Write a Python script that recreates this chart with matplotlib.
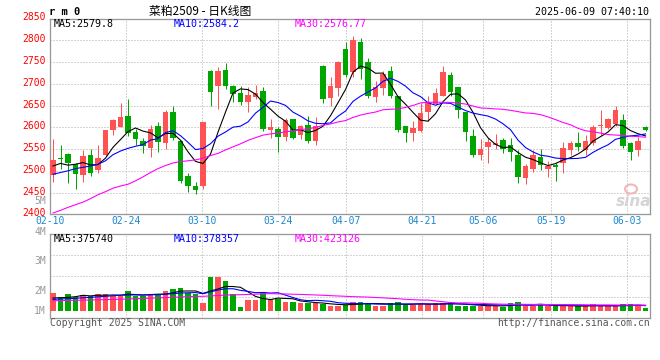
import numpy as np
import pandas as pd
import matplotlib
matplotlib.use('Agg')
import matplotlib.pyplot as plt
import matplotlib.transforms as mtransforms
from matplotlib.patches import Ellipse

# 菜粕2509 daily candles, 2025-02-10 .. 2025-06-06 (80 trading days)
opens = [2490, 2530, 2538, 2515, 2490, 2536, 2502, 2536, 2594, 2601,
         2625, 2589, 2568, 2553, 2602, 2563, 2636, 2568, 2488, 2465,
         2464, 2730, 2696, 2732, 2695, 2679, 2659, 2669, 2684, 2593,
         2595, 2578, 2618, 2583, 2606, 2568, 2740, 2667, 2690, 2781,
         2728, 2796, 2751, 2669, 2690, 2730, 2671, 2602, 2587, 2591,
         2636, 2654, 2673, 2720, 2692, 2635, 2580, 2537, 2555, 2560,
         2570, 2559, 2536, 2484, 2504, 2532, 2504, 2513, 2517, 2547,
         2564, 2547, 2563, 2603, 2598, 2608, 2616, 2563, 2547, 2601]
closes = [2524, 2526, 2518, 2493, 2534, 2496, 2530, 2593, 2617, 2623,
          2587, 2572, 2557, 2597, 2566, 2636, 2575, 2477, 2464, 2456,
          2612, 2682, 2730, 2694, 2677, 2658, 2674, 2678, 2597, 2601,
          2578, 2616, 2575, 2602, 2568, 2602, 2665, 2696, 2751, 2720,
          2801, 2735, 2673, 2692, 2722, 2671, 2593, 2587, 2598, 2633,
          2659, 2679, 2726, 2682, 2639, 2588, 2536, 2550, 2566, 2564,
          2550, 2544, 2486, 2512, 2537, 2513, 2512, 2509, 2553, 2564,
          2555, 2568, 2601, 2604, 2618, 2639, 2557, 2544, 2568, 2593]
highs = [2572, 2560, 2541, 2518, 2547, 2551, 2559, 2594, 2620, 2656,
         2666, 2597, 2576, 2606, 2611, 2639, 2650, 2570, 2496, 2475,
         2613, 2731, 2738, 2747, 2697, 2695, 2692, 2697, 2692, 2618,
         2600, 2621, 2619, 2605, 2625, 2623, 2743, 2716, 2753, 2796,
         2810, 2806, 2760, 2707, 2730, 2741, 2672, 2604, 2614, 2656,
         2671, 2690, 2740, 2728, 2693, 2636, 2595, 2572, 2576, 2584,
         2575, 2575, 2547, 2515, 2547, 2550, 2523, 2517, 2566, 2568,
         2589, 2582, 2606, 2640, 2621, 2650, 2631, 2566, 2578, 2602]
lows = [2474, 2505, 2473, 2458, 2475, 2488, 2496, 2535, 2582, 2600,
        2580, 2559, 2540, 2532, 2544, 2551, 2570, 2471, 2452, 2446,
        2458, 2649, 2641, 2688, 2657, 2652, 2636, 2665, 2591, 2576,
        2544, 2568, 2572, 2572, 2565, 2559, 2655, 2649, 2673, 2715,
        2716, 2712, 2667, 2658, 2674, 2667, 2588, 2566, 2568, 2588,
        2614, 2652, 2671, 2671, 2621, 2568, 2532, 2524, 2518, 2551,
        2540, 2523, 2471, 2469, 2498, 2502, 2486, 2477, 2496, 2536,
        2545, 2537, 2559, 2582, 2596, 2604, 2553, 2525, 2534, 2592]
volumes = [1350000, 1000000, 1250000, 1000000, 1175000, 1125000, 1250000, 1250000, 1100000, 1100000,
           1500000, 1100000, 1100000, 1250000, 1250000, 1500000, 1625000, 1725000, 1300000, 1250000,
           600000, 2500000, 2500000, 2225000, 1250000, 300000, 800000, 800000, 1425000, 850000,
           850000, 675000, 675000, 600000, 550000, 550000, 500000, 375000, 375000, 425000,
           650000, 650000, 575000, 375000, 375000, 550000, 650000, 425000, 425000, 500000,
           500000, 600000, 550000, 550000, 375000, 375000, 375000, 375000, 375000, 375000,
           300000, 550000, 650000, 375000, 375000, 475000, 350000, 350000, 350000, 350000,
           350000, 350000, 475000, 350000, 350000, 350000, 475000, 475000, 425000, 225000]

# moving-average values before the window fills
ma5_head = [2511, 2517, 2513, 2515]
ma10_head = [2492, 2496, 2500, 2505, 2508, 2511, 2515, 2523, 2537]
ma30_head = [2403, 2409, 2416, 2422, 2428, 2436, 2445, 2452, 2460, 2465,
             2469, 2477, 2486, 2496, 2505, 2512, 2518, 2521, 2523, 2525,
             2529, 2535, 2540, 2548, 2555, 2562, 2570, 2576, 2582]
vma5_head = [950000, 970000, 1000000, 1050000]
vma10_head = [850000, 880000, 900000, 930000, 970000, 1000000, 1040000, 1080000, 1120000]
vma30_head = [750000, 760000, 770000, 780000, 790000, 800000, 820000, 830000, 850000, 860000,
              880000, 900000, 920000, 940000, 960000, 980000, 1000000, 1030000, 1050000, 1070000,
              1080000, 1110000, 1140000, 1170000, 1190000, 1200000, 1220000, 1240000, 1260000]

date_labels = ['02-10', '02-24', '03-10', '03-24', '04-07', '04-21', '05-06', '05-19', '06-03']
date_idx = [0, 10, 20, 30, 39, 49, 57, 66, 76]
price_ticks = list(range(2400, 2851, 50))
vol_labels = ['5M', '4M', '3M', '2M', '1M']
vol_label_y = [201, 232, 261, 291, 311]   # pixel rows of the labels

price_legend = ['MA5:2579.8', 'MA10:2584.2', 'MA30:2576.77']
vol_legend = ['MA5:375740', 'MA10:378357', 'MA30:423126']

RED = '#ff5252'
GREEN = '#00a600'
GRID = '#aaaaaa'
FRAME = '#999999'
MA_COLORS = ['black', '#0000ff', '#ff00ff']
MONO = ['DejaVu Sans Mono', 'Noto Sans CJK SC']
PX = 0.72  # one pixel in points

W, H = 660, 360
def fx(x):
    return x / W
def fy(y):
    return 1 - y / H
def box(l, t, r, b):
    return [l / W, 1 - b / H, (r - l) / W, (b - t) / H]

def with_head(values, n, head):
    rolled = pd.Series(values, dtype=float).rolling(n).mean().values
    return np.concatenate([head, rolled[n - 1:]])

o = np.array(opens, float)
c = np.array(closes, float)
hi = np.array(highs, float)
lo = np.array(lows, float)
v = np.array(volumes, float)
x = np.arange(len(c))
cols = np.where(c >= o, RED, GREEN)

ma_price = [with_head(c, 5, ma5_head), with_head(c, 10, ma10_head), with_head(c, 30, ma30_head)]
ma_vol = [with_head(v, 5, vma5_head), with_head(v, 10, vma10_head), with_head(v, 30, vma30_head)]

plt.rcParams['font.family'] = MONO
fig = plt.figure(figsize=(6.6, 3.6), dpi=100)
fig.patch.set_facecolor('white')

xlim = (-0.4, 79.53)
grid_x = [i - 0.4 + 0.013 * i for i in date_idx]

# ---- price panel
ax = fig.add_axes(box(50, 18.5, 649.5, 214.3))
ax.set_xlim(*xlim)
ax.set_ylim(2400, 2850)
ax.vlines(x, lo, hi, colors=cols, lw=PX, zorder=2)
ax.bar(x, np.maximum(np.abs(c - o), 1.2), bottom=np.minimum(o, c), width=0.75,
       color=cols, lw=0, zorder=3)
for line, col in zip(ma_price, MA_COLORS):
    ax.plot(x, line, color=col, lw=PX * 1.1, zorder=4)

ax.set_yticks(price_ticks)
ax.set_yticklabels([str(t) for t in price_ticks])
ax.set_xticks(grid_x)
ax.set_xticklabels(date_labels)
ax.tick_params(axis='y', length=0, pad=3, labelsize=7, labelcolor='#ff0000')
ax.tick_params(axis='x', length=0, pad=1.5, labelsize=7, labelcolor='#1a86d0')
lift = mtransforms.ScaledTranslation(0, 2 / 100, fig.dpi_scale_trans)
for lab in ax.get_yticklabels():
    lab.set_transform(lab.get_transform() + lift)
ax.grid(True, color=GRID, linestyle=(0, (1, 2)), lw=PX)
ax.set_axisbelow(True)
for s in ax.spines.values():
    s.set_color(FRAME)
    s.set_linewidth(PX * 1.3)

# ---- volume panel
vax = fig.add_axes(box(50, 234.3, 649.5, 318.3))
vax.set_xlim(*xlim)
vlo, vhi = -570000, 5730000
vax.set_ylim(vlo, vhi)
vax.bar(x, v, width=0.78, color=cols, lw=0, zorder=3)
for line, col in zip(ma_vol, MA_COLORS):
    vax.plot(x, line, color=col, lw=PX * 1.1, zorder=4)
vax.set_xticks(grid_x)
vax.set_yticks([vlo + (vhi - vlo) * k / 4 for k in (1, 2, 3)])
vax.set_xticklabels([])
vax.set_yticklabels([])
vax.tick_params(length=0)
vax.grid(True, color=GRID, linestyle=(0, (1, 2)), lw=PX)
vax.set_axisbelow(True)
for s in vax.spines.values():
    s.set_color(FRAME)
    s.set_linewidth(PX * 1.3)

for lab, yy in zip(vol_labels, vol_label_y):
    fig.text(fx(46), fy(yy), lab, ha='right', va='center', fontsize=7, color='#9a9a9a')

# ---- header / legends
fig.text(fx(49), fy(12), 'r m 0', ha='left', va='center', fontsize=7.5,
         fontweight='bold', color='black')
fig.text(fx(200), fy(12), '菜粕2509 - 日K线图', ha='center', va='center',
         fontsize=8.5, color='black', family=['Noto Sans CJK SC', 'DejaVu Sans'])
fig.text(fx(649), fy(12), '2025-06-09 07:40:10', ha='right', va='center',
         fontsize=7.2, color='black')

legend_x = [54, 174, 295]
for txt, col, lx in zip(price_legend, MA_COLORS, legend_x):
    fig.text(fx(lx), fy(24), txt, ha='left', va='center', fontsize=7.2, color=col)
for txt, col, lx in zip(vol_legend, MA_COLORS, legend_x):
    fig.text(fx(lx), fy(238.5), txt, ha='left', va='center', fontsize=7.2, color=col)

fig.text(fx(50), fy(323.5), 'Copyright 2025 SINA.COM', ha='left', va='center',
         fontsize=7, color='#555555')
fig.text(fx(649.5), fy(323.5), 'http://finance.sina.com.cn', ha='right', va='center',
         fontsize=7, color='#555555')

# sina watermark
fig.patches.append(Ellipse((fx(631), fy(189)), 12 / W, 9 / H, transform=fig.transFigure,
                           facecolor='none', edgecolor='#f2b8b8', lw=1.5))
fig.text(fx(634), fy(201), 'sina', ha='center', va='center', fontsize=11,
         fontstyle='italic', fontweight='bold', color='#d4d4d4', family='DejaVu Sans')

fig.savefig('out.png', dpi=100, facecolor='white')
